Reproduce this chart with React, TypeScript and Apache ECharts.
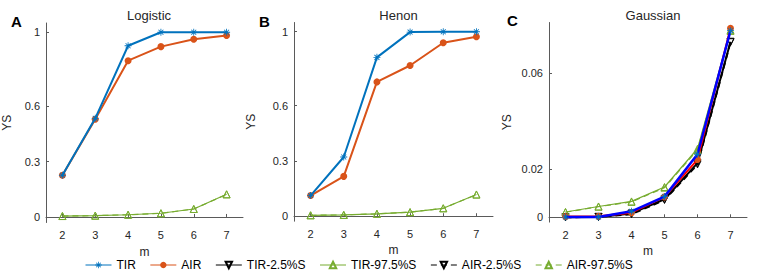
import React, { useEffect, useRef } from "react";
import * as echarts from "echarts";

const mValues = [2, 3, 4, 5, 6, 7];

// Panel A: Logistic
const logisticTIR = [0.226, 0.534, 0.927, 1.0, 1.0, 1.0];
const logisticAIR = [0.226, 0.529, 0.846, 0.922, 0.962, 0.982];
const logisticTIR975 = [0.005, 0.007, 0.012, 0.02, 0.043, 0.123];
const logisticAIR975 = [0.005, 0.007, 0.012, 0.02, 0.043, 0.122];

// Panel B: Henon
const henonTIR = [0.112, 0.321, 0.861, 0.998, 1.0, 1.0];
const henonAIR = [0.112, 0.216, 0.728, 0.817, 0.94, 0.973];
const henonTIR975 = [0.005, 0.007, 0.013, 0.022, 0.043, 0.118];
const henonAIR975 = [0.005, 0.007, 0.013, 0.022, 0.043, 0.117];

// Panel C: Gaussian
const gaussTIR = [0.0001, 0.0001, 0.0025, 0.0086, 0.0262, 0.0776];
const gaussAIR = [0.0003, 0.0004, 0.0019, 0.0085, 0.024, 0.0786];
const gaussTIR25 = [0.0, 0.0001, 0.0016, 0.0075, 0.0225, 0.073];
const gaussAIR25 = [0.0, 0.0002, 0.0013, 0.0072, 0.022, 0.0728];
const gaussTIR975 = [0.0022, 0.0045, 0.0066, 0.0126, 0.0285, 0.0778];
const gaussAIR975 = [0.0021, 0.0044, 0.0064, 0.0123, 0.028, 0.0775];

const yTicksAB = [0, 0.3, 0.6, 1];
const yTicksC = [0, 0.02, 0.06];
const titles = ["Logistic", "Henon", "Gaussian"];
const letters = ["A", "B", "C"];
const legendNames = ["TIR", "AIR", "TIR-2.5%S", "TIR-97.5%S", "AIR-2.5%S", "AIR-97.5%S"];

const BLUE = "#0072BD";
const ORANGE = "#D95319";
const GREEN = "#77AC30";
const FONT = "Liberation Sans, Arial, sans-serif";

const ASTERISK =
  "path://M4.4,0 L5.6,0 L5.6,10 L4.4,10 Z M0,4.4 L10,4.4 L10,5.6 L0,5.6 Z M1.05,1.9 L1.9,1.05 L8.95,8.1 L8.1,8.95 Z M8.1,1.05 L8.95,1.9 L1.9,8.95 L1.05,8.1 Z";

function pairs(ys: number[]) {
  return mValues.map((m, i) => [m, ys[i]]);
}

export default function App() {
  const ref = useRef<HTMLDivElement>(null);
  useEffect(() => {
    if (!ref.current) return;
    const chart = echarts.init(ref.current, null, { renderer: "svg" });

    const grids = [
      { left: 45, top: 23, width: 198, height: 199.5 },
      { left: 294, top: 22.5, width: 199, height: 198.7 },
      { left: 549, top: 22.5, width: 198, height: 199.6 },
    ];
    const axisLine = { lineStyle: { color: "#5a5a5a", width: 1 } };
    const xAxes = grids.map((_, i) => ({
      type: "value",
      gridIndex: i,
      min: 1.5,
      max: 7.5,
      name: "m",
      nameLocation: "middle",
      nameGap: 23,
      nameTextStyle: { fontSize: 12, color: "#262626", fontFamily: FONT },
      axisLine,
      axisTick: { inside: true, length: 3, lineStyle: { color: "#5a5a5a" }, customValues: mValues },
      axisLabel: { customValues: mValues, fontSize: 11, color: "#262626", fontFamily: FONT, margin: 7 },
      splitLine: { show: false },
    }));
    const yRanges = [
      [-0.03, 1.05, yTicksAB, 33],
      [-0.027, 1.05, yTicksAB, 37],
      [-0.002, 0.081, yTicksC, 36],
    ] as const;
    const yAxes = yRanges.map(([mn, mx, ticks, gap], i) => ({
      type: "value",
      gridIndex: i,
      min: mn,
      max: mx,
      name: "YS",
      nameLocation: "middle",
      nameGap: gap,
      nameTextStyle: { fontSize: 12, color: "#262626", fontFamily: FONT },
      axisLine: { show: true, ...axisLine },
      axisTick: { show: true, inside: true, length: 3, lineStyle: { color: "#5a5a5a" }, customValues: ticks as unknown as number[] },
      axisLabel: {
        customValues: ticks as unknown as number[],
        fontSize: 11,
        color: "#262626",
        fontFamily: FONT,
        margin: 6,
        formatter: (v: number) => String(v),
      },
      splitLine: { show: false },
    }));

    const tir = (data: number[], gi: number, lineColor = BLUE, w = 2) => ({
      name: "TIR",
      type: "line",
      xAxisIndex: gi,
      yAxisIndex: gi,
      data: pairs(data),
      symbol: ASTERISK,
      symbolSize: 7,
      itemStyle: { color: BLUE },
      lineStyle: { color: lineColor, width: w },
      z: 5,
    });
    const air = (data: number[], gi: number, lineColor = ORANGE, w = 2) => ({
      name: "AIR",
      type: "line",
      xAxisIndex: gi,
      yAxisIndex: gi,
      data: pairs(data),
      symbol: "circle",
      symbolSize: 7,
      itemStyle: { color: ORANGE },
      lineStyle: { color: lineColor, width: w },
      z: 4,
    });
    const tri = (name: string, data: number[], gi: number, color: string, dashed: boolean, down: boolean, w = 1.2) => ({
      name,
      type: "line",
      xAxisIndex: gi,
      yAxisIndex: gi,
      data: pairs(data),
      symbol: "triangle",
      symbolSize: 7,
      symbolRotate: down ? 180 : 0,
      itemStyle: { color: "rgba(255,255,255,0)", borderColor: color, borderWidth: 1 },
      lineStyle: { color, width: w, type: dashed ? [6, 4] : "solid" },
      z: 3,
    });

    const series = [
      tir(logisticTIR, 0),
      air(logisticAIR, 0),
      tri("TIR-97.5%S", logisticTIR975, 0, GREEN, false, false),
      tri("AIR-97.5%S", logisticAIR975, 0, GREEN, true, false),
      tir(henonTIR, 1),
      air(henonAIR, 1),
      tri("TIR-97.5%S", henonTIR975, 1, GREEN, false, false),
      tri("AIR-97.5%S", henonAIR975, 1, GREEN, true, false),
      tri("TIR-2.5%S", gaussTIR25, 2, "#000000", false, true, 2),
      tri("AIR-2.5%S", gaussAIR25, 2, "#000000", true, true, 2),
      tri("TIR-97.5%S", gaussTIR975, 2, GREEN, false, false),
      tri("AIR-97.5%S", gaussAIR975, 2, GREEN, true, false),
      air(gaussAIR, 2, "#FF0000", 2),
      tir(gaussTIR, 2, "#0000FF", 2.5),
    ];

    const titleCfg = titles.map((t, i) => ({
      text: t,
      left: grids[i].left + grids[i].width / 2,
      textAlign: "center",
      top: 4,
      textStyle: { fontSize: 13, fontWeight: "normal", color: "#262626", fontFamily: FONT },
    }));
    const letterPos = [
      [6, 9],
      [254, 9],
      [502, 8],
    ];
    const letterCfg = letters.map((l, i) => ({
      text: l,
      left: letterPos[i][0],
      top: letterPos[i][1],
      textStyle: { fontSize: 15, fontWeight: "bold", color: "#000", fontFamily: FONT },
    }));

    chart.setOption({
      animation: false,
      backgroundColor: "#ffffff",
      title: [...titleCfg, ...letterCfg],
      grid: grids,
      xAxis: xAxes,
      yAxis: yAxes,
      legend: {
        data: legendNames,
        left: 80,
        top: 254,
        itemWidth: 26,
        itemHeight: 8,
        itemGap: 14,
        lineStyle: { width: 1 },
        textStyle: { fontSize: 12, color: "#000", fontFamily: FONT },
        selectedMode: false,
      },
      series,
    } as any);
    return () => chart.dispose();
  }, []);
  return (
    <div
      ref={ref}
      style={{ position: "absolute", left: 0, top: 0, width: 763, height: 273, background: "#fff" }}
    />
  );
}
